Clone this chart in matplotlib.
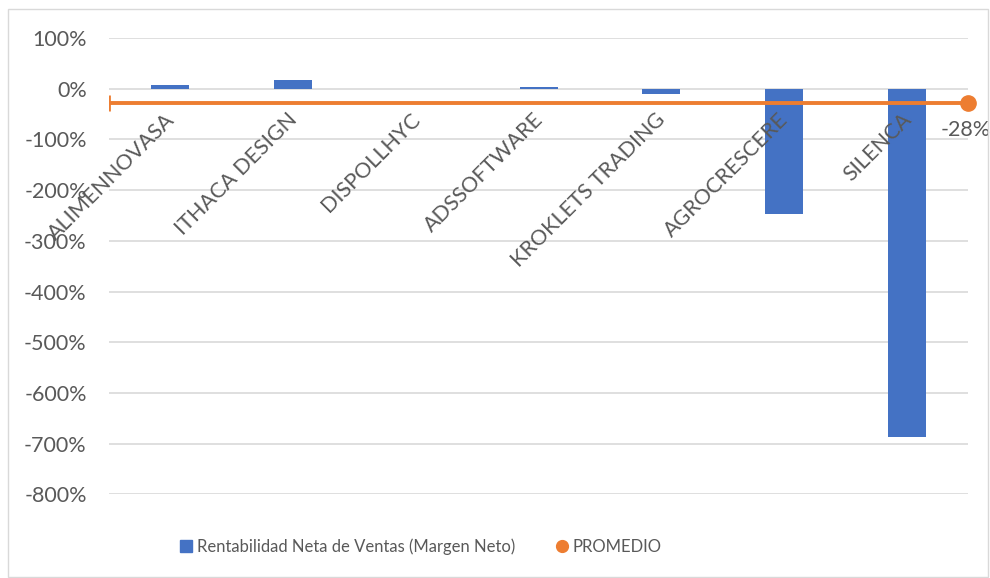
import matplotlib
matplotlib.use("Agg")
import matplotlib.pyplot as plt
from matplotlib.ticker import FuncFormatter
from matplotlib.patches import Rectangle
from matplotlib.lines import Line2D

empresas = ["ALIMENNOVASA", "ITHACA DESIGN", "DISPOLLHYC", "ADSSOFTWARE",
            "KROKLETS TRADING", "AGROCRESCERE", "SILENCA"]
margen_neto = [0.07, 0.18, -0.01, 0.03, -0.10, -2.48, -6.87]
promedio = -0.28

azul = "#4472C4"
naranja = "#ED7D31"
gris_txt = "#595959"

plt.rcParams["font.family"] = ["Lato", "DejaVu Sans"]

fig = plt.figure(figsize=(9.9, 5.78), dpi=100)
ax = fig.add_axes([0.110, 0.145, 0.868, 0.789])

x = list(range(len(empresas)))
ax.bar(x, margen_neto, width=0.31, color=azul, zorder=2)

# promedio line across the full width
ax.plot([-0.5, len(empresas) - 0.5], [promedio, promedio], color=naranja,
        linewidth=2.8, zorder=3, solid_capstyle="butt")
ax.plot([-0.5], [promedio], marker="|", markersize=11, markeredgewidth=2,
        color=naranja, zorder=3)
ax.plot([len(empresas) - 0.5], [promedio], marker="o", markersize=11,
        color=naranja, zorder=4, clip_on=False)
ax.annotate(f"{promedio:.0%}", (len(empresas) - 0.5, promedio),
            xytext=(-2, -12), textcoords="offset points", ha="center", va="top",
            fontsize=15.5, color=gris_txt, annotation_clip=False)

ax.set_xlim(-0.5, len(empresas) - 0.5)
ax.set_ylim(-8, 1)
ax.set_yticks([i for i in range(-8, 2)])
ax.yaxis.set_major_formatter(FuncFormatter(lambda v, p: f"{v * 100:.0f}%"))
ax.tick_params(axis="y", length=0, pad=16, labelsize=15.5, labelcolor=gris_txt)
ax.set_xticks([])
ax.grid(axis="y", color="#D9D9D9", linewidth=1.2, zorder=0)
for s in ax.spines.values():
    s.set_visible(False)

# category labels rotated, hanging below the zero line
for xi, name in zip(x, empresas):
    ax.annotate(name, (xi, 0), xytext=(6, -15), textcoords="offset points",
                rotation=45, ha="right", va="top", fontsize=15.5, color=gris_txt)

handles = [
    Line2D([], [], marker="s", linestyle="none", color=azul, markersize=8),
    Line2D([], [], marker="o", linestyle="none", color=naranja, markersize=8.5),
]
fig.legend(handles, ["Rentabilidad Neta de Ventas (Margen Neto)", "PROMEDIO"],
           loc="center left", bbox_to_anchor=(178 / 990, 0.054), ncol=2,
           frameon=False, borderpad=0, borderaxespad=0,
           fontsize=12, labelcolor=gris_txt, handletextpad=0.15,
           columnspacing=2.3, handlelength=1.0)

fig.patches.append(Rectangle((8 / 990, 0.002), 0.99, 1 - 9 / 578 - 0.002,
                             transform=fig.transFigure, fill=False,
                             edgecolor="#D9D9D9", linewidth=1))

fig.savefig("out.png", dpi=100)
